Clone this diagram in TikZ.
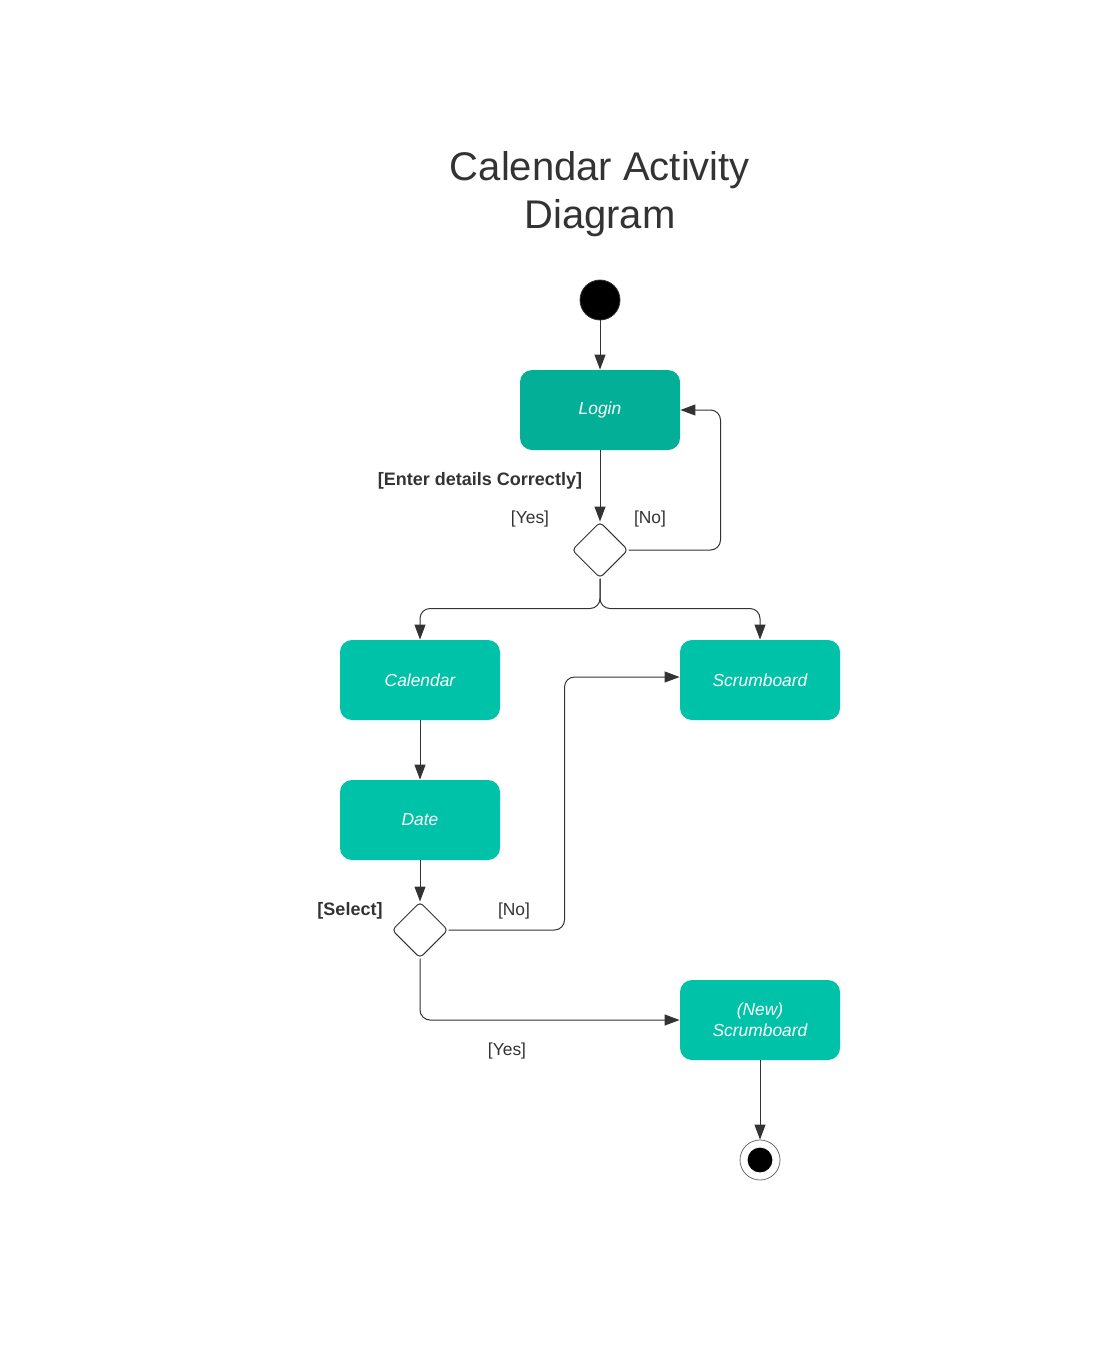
\documentclass[tikz,border=0pt]{standalone}
\usepackage{fontspec}
\setmainfont{Liberation Sans}
\usepackage{xcolor}
\usetikzlibrary{
    arrows.meta,
    shapes.geometric,
    positioning
}
\definecolor{tealdark}{HTML}{04AF98}
\definecolor{teallight}{HTML}{00C2A8}
\definecolor{ink}{HTML}{333333}

\begin{document}
\begin{tikzpicture}[x=0.5pt, y=-0.5pt,
        activity/.style={rectangle, rounded corners=6pt, fill=teallight, text=white,
            minimum width=80pt, minimum height=40pt, align=center,
            font=\fontsize{8.7}{10.5}\selectfont\itshape},
        decision/.style={diamond, draw=ink, line width=0.5pt, fill=white, rounded corners=2pt,
            minimum width=28pt, minimum height=28pt, inner sep=0pt},
        startnode/.style={circle, draw=ink, line width=0.4pt, fill=black, minimum size=20pt, inner sep=0pt},
        stopnode/.style={circle, draw=ink!70, line width=0.4pt, fill=white, minimum size=20pt, inner sep=0pt,
            path picture={\fill[black] (path picture bounding box.center) circle (6.2pt);}},
        flow/.style={draw=ink, line width=0.5pt, rounded corners=5pt, -{Triangle[length=7.5pt, width=5.5pt]}},
        guard/.style={text=ink, font=\fontsize{8.7}{10.5}\selectfont},
        bguard/.style={text=ink, font=\fontsize{9}{10.5}\selectfont\bfseries}]
    \useasboundingbox (0, 0) rectangle (1107, 1360);
    \node[text=ink, align=center, font=\fontsize{20}{24}\selectfont] (title) at (600, 194) {Calendar Activity\\Diagram};
    \node[startnode] (start) at (600, 300) {};
    \node[activity, fill=tealdark] (login) at (600, 410) {Login};
    \node[decision] (d1) at (600, 550) {};
    \node[activity] (cal) at (420, 680) {Calendar};
    \node[activity] (scrum) at (760, 680) {Scrumboard};
    \node[activity] (date) at (420, 820) {Date};
    \node[decision] (d2) at (420, 930) {};
    \node[activity] (nscrum) at (760, 1020) {(New)\\Scrumboard};
    \node[stopnode] (stop) at (760, 1160) {};
    % guards
    \node[bguard] (enter) at (480, 481) {[Enter details Correctly]};
    \node[guard] (yes1) at (530, 519) {[Yes]};
    \node[guard] (no1) at (650, 519) {[No]};
    \node[bguard] (select) at (350, 911) {[Select]};
    \node[guard] (no2) at (514, 911) {[No]};
    \node[guard] (yes2) at (507, 1051) {[Yes]};
    % flows
    \draw[flow] (start) -- (login);
    \draw[flow] (login) -- (d1);
    \draw[flow] (d1.east) -- ++(92, 0) |- (login.east);
    \draw[flow] (d1.south) -- ++(0, 30) -| (cal.north);
    \draw[flow] (d1.south) -- ++(0, 30) -| (scrum.north);
    \draw[flow] (cal) -- (date);
    \draw[flow] (date) -- (d2);
    \draw[flow] (d2.east) -- ++(116, 0) |- ([yshift=1.5pt]scrum.west);
    \draw[flow] (d2.south) |- (nscrum.west);
    \draw[flow] (nscrum) -- (stop);
\end{tikzpicture}
\end{document}
